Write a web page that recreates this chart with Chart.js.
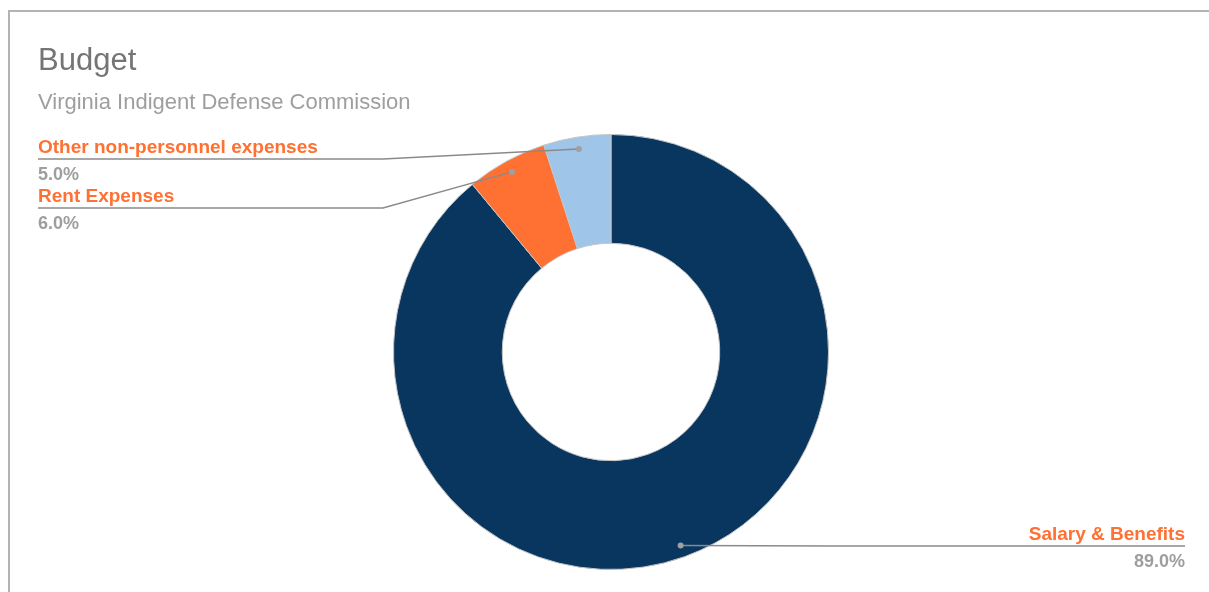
<!DOCTYPE html>
<html>
<head>
<meta charset="utf-8">
<script src="https://cdn.jsdelivr.net/npm/chart.js@4.4.1/dist/chart.umd.min.js"></script>
<style>
  html, body { margin: 0; padding: 0; background: #fff; }
  #wrap { width: 1209px; height: 592px; position: relative; }
</style>
</head>
<body>
<div id="wrap"><canvas id="budget"></canvas></div>
<script>
const categories = ['Salary & Benefits', 'Rent Expenses', 'Other non-personnel expenses'];
const shares = [89.0, 6.0, 5.0];
const colors = ['#08365f', '#ff7033', '#9fc5e8'];

// where each leader line ends up: [elbow x, line y, label side]
const labelSpots = [
  { elbowX: 835, lineY: 546, side: 'right' },
  { elbowX: 383, lineY: 208, side: 'left' },
  { elbowX: 383, lineY: 159, side: 'left' }
];

const FONT = '"Liberation Sans", Arial, sans-serif';

// frame, title and subtitle
const frame = {
  id: 'frame',
  beforeDraw(chart) {
    const ctx = chart.ctx;
    ctx.save();
    ctx.strokeStyle = '#b3b3b3';
    ctx.lineWidth = 2;
    ctx.strokeRect(9, 11, 1300, 700);
    ctx.fillStyle = '#757575';
    ctx.font = '31px ' + FONT;
    ctx.textBaseline = 'middle';
    ctx.fillText('Budget', 38, 61);
    ctx.fillStyle = '#9e9e9e';
    ctx.font = '22px ' + FONT;
    ctx.fillText('Virginia Indigent Defense Commission', 38, 103);
    ctx.restore();
  }
};

// leader lines with name above and percent below
const leaders = {
  id: 'leaders',
  afterDatasetsDraw(chart) {
    const ctx = chart.ctx;
    const meta = chart.getDatasetMeta(0);
    ctx.save();
    meta.data.forEach((arc, i) => {
      const p = arc.getProps(['x', 'y', 'startAngle', 'endAngle', 'outerRadius'], true);
      const mid = (p.startAngle + p.endAngle) / 2;
      const r = p.outerRadius * 0.945;
      const dx = p.x + Math.cos(mid) * r;
      const dy = p.y + Math.sin(mid) * r;
      const spot = labelSpots[i];
      const endX = spot.side === 'left' ? 38 : 1185;

      ctx.strokeStyle = '#8a8a8a';
      ctx.lineWidth = 1.5;
      ctx.beginPath();
      ctx.moveTo(dx, dy);
      ctx.lineTo(spot.elbowX, spot.lineY);
      ctx.lineTo(endX, spot.lineY);
      ctx.stroke();

      ctx.fillStyle = '#a0a0a0';
      ctx.beginPath();
      ctx.arc(dx, dy, 3, 0, Math.PI * 2);
      ctx.fill();

      ctx.textAlign = spot.side === 'left' ? 'left' : 'right';
      ctx.textBaseline = 'alphabetic';
      ctx.fillStyle = '#ff7033';
      ctx.font = 'bold 19px ' + FONT;
      ctx.fillText(categories[i], endX, spot.lineY - 6);
      ctx.fillStyle = '#9e9e9e';
      ctx.font = 'bold 18px ' + FONT;
      ctx.fillText(shares[i].toFixed(1) + '%', endX, spot.lineY + 21);
    });
    ctx.restore();
  }
};

new Chart(document.getElementById('budget'), {
  type: 'doughnut',
  data: {
    labels: categories,
    datasets: [{
      data: shares,
      backgroundColor: colors,
      borderColor: '#c4c4c4',
      borderWidth: 1
    }]
  },
  options: {
    responsive: true,
    maintainAspectRatio: false,
    animation: false,
    cutout: '50%',
    layout: { padding: { top: 134, bottom: 22, left: 13, right: 0 } },
    plugins: {
      legend: { display: false },
      tooltip: { enabled: false }
    }
  },
  plugins: [frame, leaders]
});
</script>
</body>
</html>
